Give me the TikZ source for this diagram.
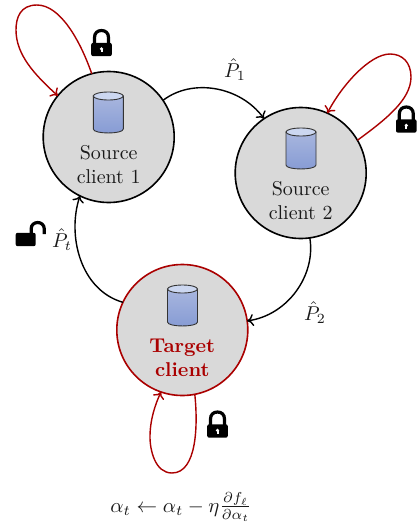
\documentclass[tikz,border=0pt]{standalone}
\usetikzlibrary{arrows.meta}
\definecolor{tred}{RGB}{170,0,0}
\definecolor{cgray}{RGB}{217,217,217}
\definecolor{dbtop}{RGB}{168,182,222}
\definecolor{dbbot}{RGB}{134,155,212}
\definecolor{dbcap}{RGB}{204,215,240}
\tikzset{
  x=0.5pt,y=-0.5pt,
  client/.style={circle,draw=black,fill=cgray,line width=0.8pt,minimum size=65.5pt,inner sep=0pt,outer sep=0pt},
  target/.style={client,draw=tred},
  caption/.style={align=center,inner sep=0pt,text=black!90},
  flow/.style={line width=0.7pt,-{Computer Modern Rightarrow[length=3.2pt,width=6pt]}},
  selfloop/.style={flow,draw=tred},
  plabel/.style={inner sep=0pt,text=black!90},
  db/.pic={
    \path[top color=dbtop,bottom color=dbbot,draw=black!80,line width=0.45pt]
      (-15,0) -- (-15,33) .. controls (-15,38.3) and (15,38.3) .. (15,33) -- (15,0) -- cycle;
    \path[fill=dbcap,draw=black!80,line width=0.45pt] (0,0) ellipse [x radius=15,y radius=4];
  },
  lockbody/.style={fill=black,rounded corners=1pt},
  shackle/.style={draw=black,line width=1.6pt},
  lockshut/.pic={
    \draw[shackle] (-7,-5) -- (-7,-12) .. controls (-7,-16.5) and (-4,-19) .. (0,-19) .. controls (4,-19) and (7,-16.5) .. (7,-12) -- (7,-5);
    \fill[lockbody] (-10.3,-6.7) rectangle (10.3,6.7);
    \fill[white] (0,-0.6) circle [radius=1.8];
    \fill[white] (-1,-0.6) rectangle (1,2.8);
  },
  lockopen/.pic={
    \draw[shackle] (5.5,-5) -- (5.5,-11) .. controls (5.5,-14.5) and (8.5,-17) .. (12,-17) .. controls (15.5,-17) and (18.5,-14.5) .. (18.5,-11) -- (18.5,-5.5);
    \fill[lockbody] (-10,-6.7) rectangle (10,6.7);
  }
}
\begin{document}
\begin{tikzpicture}
\path[use as bounding box] (0,0) rectangle (417,525);
\node[client] (s1) at (108.7,137) {};
\node[client] (s2) at (300.7,173) {};
\node[target] (t) at (182.3,330) {};
\pic at (108.3,96) {db};
\pic at (301,132) {db};
\pic at (182.5,289) {db};
\node[caption] (s1t) at (108.7,164.5) {Source\\client 1};
\node[caption] (s2t) at (300.7,200.5) {Source\\client 2};
\node[caption,text=tred,font=\bfseries] (tt) at (182.3,357.5) {Target\\client};
\draw[flow] (s1.34) .. controls (192,78) and (240,86) .. (s2.124);
\draw[flow] (s2.-82) .. controls (316,275) and (288,315) .. (t.8);
\draw[flow] (t.155) .. controls (80,290) and (67,235) .. (s1.244);
\draw[selfloop] (s1.105) .. controls (80,40) and (60,5) .. (37,5) .. controls (20,5) and (16,18) .. (16,30) .. controls (16,55) and (35,75) .. (s1.141);
\draw[selfloop] (s2.30) .. controls (385,120) and (411,100) .. (411,77) .. controls (411,62) and (402,54) .. (390,54) .. controls (370,54) and (342,85) .. (s2.66);
\draw[selfloop] (t.-79) .. controls (198,425) and (197,473) .. (172,473) .. controls (155,473) and (150,450) .. (150,437) .. controls (150,420) and (155,405) .. (t.-109);
\node[plabel] (p1) at (235,70) {$\hat{P}_1$};
\node[plabel] (p2) at (315,313) {$\hat{P}_2$};
\node[plabel] (pt) at (62,240) {$\hat{P}_t$};
\node[plabel,scale=1.03] (upd) at (181,507) {$\alpha_t \leftarrow \alpha_t - \eta\frac{\partial f_\ell}{\partial \alpha_t}$};
\pic at (101.5,49.5) {lockshut};
\pic at (406.3,126) {lockshut};
\pic at (217.5,431) {lockshut};
\pic at (25.7,239.5) {lockopen};
\end{tikzpicture}
\end{document}
